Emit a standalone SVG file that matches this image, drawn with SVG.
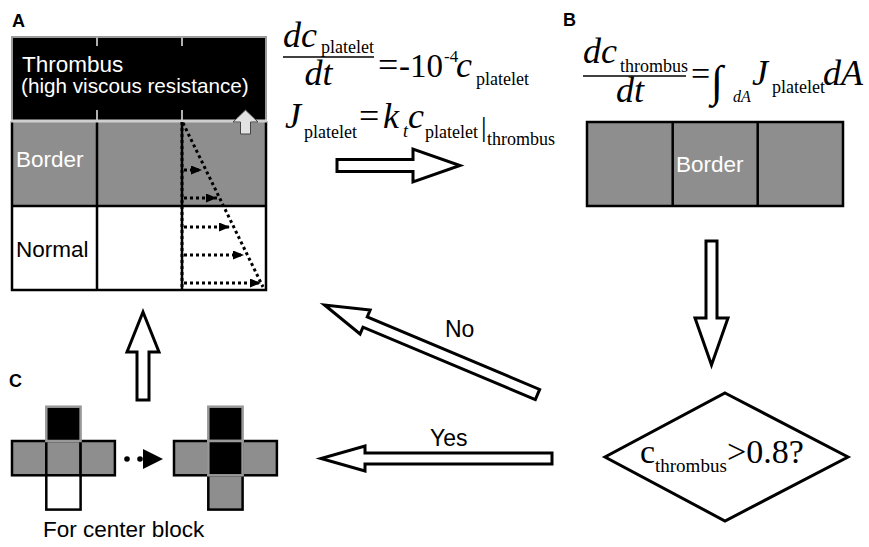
<svg xmlns="http://www.w3.org/2000/svg" width="869" height="547" viewBox="0 0 869 547">
<style>
  .sans{font-family:"Liberation Sans",Arial,sans-serif}
  .lbl{font-family:"Liberation Sans",Arial,sans-serif;font-weight:bold;font-size:18px;fill:#000}
  .serif{font-family:"Liberation Serif","Times New Roman",serif;fill:#000}
  .it{font-style:italic}
  .big{font-size:36px}
  .sub{font-size:18px}
  .gray{fill:#8e8e8e}
  .cellline{stroke:#000;stroke-width:2.5;fill:none}
  .arrow{fill:#fff;stroke:#000;stroke-width:3;stroke-linejoin:miter}
  .dot{stroke:#000;stroke-width:3;stroke-dasharray:3 3;fill:none}
  .wt{fill:#fff}
</style>
<defs>
  <marker id="tri" markerUnits="userSpaceOnUse" markerWidth="11" markerHeight="9" refX="11" refY="4.5" orient="auto">
    <path d="M0,0 L11,4.5 L0,9 z" fill="#000"/>
  </marker>
</defs>
<rect width="869" height="547" fill="#fff"/>

<!-- Panel labels -->
<text class="lbl" x="12" y="27">A</text>
<text class="lbl" x="563" y="26">B</text>
<text class="lbl" x="9" y="387">C</text>

<!-- Panel A grid -->
<g id="gridA">
  <rect x="12" y="37" width="254" height="84" fill="#000" stroke="#9a9a9a" stroke-width="2"/>
  <g stroke="#b0b0b0" stroke-width="2">
    <line x1="97" y1="37" x2="97" y2="46"/><line x1="182" y1="37" x2="182" y2="46"/>
    <line x1="97" y1="110" x2="97" y2="120"/><line x1="182" y1="110" x2="182" y2="120"/>
  </g>
  <rect x="12" y="121" width="254" height="85" class="gray"/>
  <rect x="12" y="206" width="254" height="84" fill="#fff"/>
  <path class="cellline" d="M12,121 V290 H266 V121 M12,206 H266 M97,121 V290 M182,121 V290"/>
  <line x1="11" y1="121" x2="267" y2="121" stroke="#cfcfcf" stroke-width="3"/>
  <text class="sans wt" x="22" y="71.5" font-size="22.5">Thrombus</text>
  <text class="sans wt" x="21" y="92.5" font-size="20.7">(high viscous resistance)</text>
  <text class="sans wt" x="16" y="167" font-size="22.5">Border</text>
  <text class="sans" x="16" y="257" font-size="22.5">Normal</text>
  <polygon points="245.5,110 258,122 250.5,122 250.5,134 240.5,134 240.5,122 233,122" fill="#e2e2e2" stroke="#444" stroke-width="1"/>
  <g class="dot">
    <line x1="182" y1="122" x2="182" y2="289"/>
    <line x1="183" y1="123" x2="263" y2="287"/>
  </g>
  <g class="dot" marker-end="url(#tri)">
    <line x1="184" y1="170" x2="202" y2="170"/>
    <line x1="184" y1="198" x2="217" y2="198"/>
    <line x1="184" y1="227" x2="230" y2="227"/>
    <line x1="184" y1="255" x2="244" y2="255"/>
    <line x1="184" y1="283" x2="261" y2="283"/>
  </g>
</g>

<!-- Equations A -->
<g id="eqA" class="serif">
  <text class="it big" x="283" y="47">dc</text>
  <text class="sub" x="321" y="53">platelet</text>
  <line x1="283" y1="57" x2="374" y2="57" stroke="#000" stroke-width="1.5"/>
  <text class="it big" x="318.5" y="85" text-anchor="middle">dt</text>
  <text class="big" x="378" y="77">=</text>
  <text x="399" y="77" font-size="33">-10</text>
  <text x="444" y="62" font-size="17">-4</text>
  <text class="it big" x="456" y="77">c</text>
  <text class="sub" x="476" y="85">platelet</text>
  <text class="it big" x="285" y="128">J</text>
  <text class="sub" x="304" y="137.5">platelet</text>
  <text class="big" x="359" y="128">=</text>
  <text class="it big" x="383" y="128">k</text>
  <text class="it sub" x="403" y="137">t</text>
  <text class="it big" x="408" y="128">c</text>
  <text class="sub" x="425" y="137.5">platelet</text>
  <text x="481" y="136" font-size="28">|</text>
  <text class="sub" x="487" y="145">thrombus</text>
</g>

<!-- Equation B -->
<g id="eqB" class="serif">
  <text class="it big" x="583" y="63">dc</text>
  <text class="sub" x="620" y="72">thrombus</text>
  <line x1="583" y1="76" x2="686" y2="76" stroke="#000" stroke-width="1.5"/>
  <text class="it big" x="630" y="102" text-anchor="middle">dt</text>
  <text x="691" y="85" font-size="34">=</text>
  <text x="711" y="96" font-size="44">∫</text>
  <text class="it" x="733" y="102" font-size="16">dA</text>
  <text class="it big" x="752" y="85">J</text>
  <text class="sub" x="772" y="93">platelet</text>
  <text class="it big" x="823" y="85">dA</text>
</g>

<!-- Panel B grid -->
<g id="gridB">
  <rect x="587" y="122" width="256" height="84" class="gray"/>
  <path class="cellline" stroke-width="3" d="M587,122 H843 V206 H587 Z M672.7,122 V206 M757.7,122 V206"/>
  <text class="sans wt" x="676" y="172" font-size="22.5">Border</text>
</g>

<!-- Decision -->
<g id="decision">
  <polygon points="725,393 848,457 725,521 605,457" fill="#fff" stroke="#000" stroke-width="3"/>
  <text class="serif" x="640" y="463" font-size="34">c</text>
  <text class="serif" x="655" y="472" font-size="19">thrombus</text>
  <text class="serif" x="727" y="463" font-size="34">&gt;0.8?</text>
</g>

<!-- Panel C crosses -->
<g id="crossBefore">
  <rect x="12" y="441" width="34.3" height="34.3" class="gray" stroke="#000" stroke-width="2.5"/>
  <rect x="46.3" y="441" width="34.3" height="34.3" class="gray" stroke="#000" stroke-width="2.5"/>
  <rect x="80.6" y="441" width="34.3" height="34.3" class="gray" stroke="#000" stroke-width="2.5"/>
  <rect x="46.3" y="475.3" width="34.3" height="34.3" fill="#fff" stroke="#000" stroke-width="2.5"/>
  <rect x="46.3" y="406.7" width="34.3" height="34.3" fill="#000" stroke="#999" stroke-width="2.5"/>
</g>
<g id="crossAfter">
  <rect x="174" y="441" width="34.3" height="34.3" class="gray" stroke="#000" stroke-width="2.5"/>
  <rect x="242.6" y="441" width="34.3" height="34.3" class="gray" stroke="#000" stroke-width="2.5"/>
  <rect x="208.3" y="475.3" width="34.3" height="34.3" class="gray" stroke="#000" stroke-width="2.5"/>
  <rect x="208.3" y="406.7" width="34.3" height="34.3" fill="#000" stroke="#999" stroke-width="2.5"/>
  <rect x="208.3" y="441" width="34.3" height="34.3" fill="#000" stroke="#999" stroke-width="2.5"/>
</g>
<text class="sans" x="43" y="537" font-size="22.5">For center block</text>

<!-- Connectors -->
<g id="connectors">
  <polygon class="arrow" points="337,159.5 413,159.5 413,149 460,165.5 413,182 413,171.5 337,171.5"/>
  <polygon class="arrow" points="706,241 717,241 717,318 728,318 711.5,365 695,318 706,318"/>
  <polygon class="arrow" transform="translate(537.5,394.5) rotate(202.8)" points="0,-5.5 187,-5.5 187,-13 231,0 187,13 187,5.5 0,5.5"/>
  <text class="sans" x="445" y="337" font-size="23">No</text>
  <polygon class="arrow" points="552,453 365,453 365,446 321,458.5 365,471 365,464 552,464"/>
  <text class="sans" x="430" y="446" font-size="23">Yes</text>
  <polygon class="arrow" points="137,400 137,352 127,352 143,312 159,352 149,352 149,400"/>
  <circle cx="127" cy="459" r="2.8" fill="#000"/>
  <circle cx="140" cy="459" r="2.8" fill="#000"/>
  <polygon points="143,449 163,459 143,469" fill="#000"/>
</g>
</svg>
